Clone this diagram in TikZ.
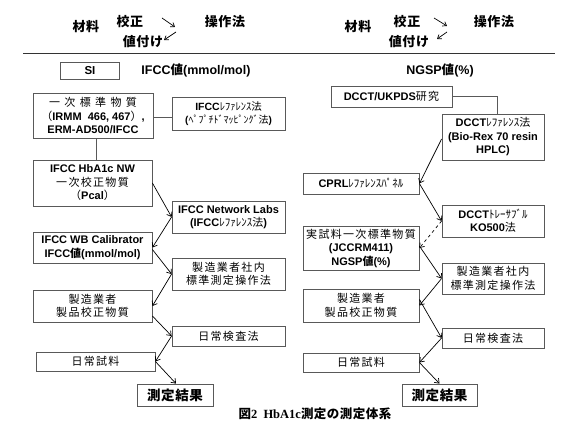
\documentclass[tikz,border=0pt]{standalone}
\usepackage{fontspec}
\setmainfont{Liberation Sans}
\newfontfamily\jpfont[LetterSpace=12]{Noto Sans CJK JP}
\newfontfamily\jpwide[LetterSpace=40]{Noto Sans CJK JP}
\newfontfamily\jphead[LetterSpace=4]{Noto Sans CJK JP}
\newfontfamily\jpkana{Noto Sans CJK JP}
\newfontfamily\capserif{Liberation Serif}
\newcommand\JR[1]{{\jpfont\mdseries #1}}
\newcommand\JW[1]{{\jpwide\mdseries #1}}
\newcommand\JK[1]{{\jpkana\mdseries #1}}
\newcommand\JB[1]{{\jphead\bfseries #1}}
\usetikzlibrary{arrows.meta}
\definecolor{boxgray}{HTML}{595959}
\begin{document}
\begin{tikzpicture}[x=1pt,y=-1pt,
  bx/.style={draw=boxgray, line width=0.8pt, inner sep=0pt, align=center,
    font=\bfseries\fontsize{11}{13.5}\selectfont},
  arr/.style={-{Straight Barb[length=4pt,width=6pt]}, line width=0.7pt},
  harr/.style={-{Straight Barb[length=3.5pt,width=5pt]}, line width=0.7pt},
  ln/.style={draw=boxgray, line width=0.8pt},
  htxt/.style={inner sep=0pt, font=\bfseries\fontsize{13}{15}\selectfont},
  res/.style={bx, font=\bfseries\fontsize{13.5}{15}\selectfont}]
\useasboundingbox (0,0) rectangle (580,435);

% ---------- header ----------
\node[htxt] (lmat) at (86,27) {\JB{材料}};
\node[htxt] (lcal) at (130,22) {\JB{校正}};
\node[htxt] (lop)  at (225,22) {\JB{操作法}};
\node[htxt] (lval) at (143,42) {\JB{値付け}};
\coordinate (la1) at (162,18); \coordinate (la2) at (175,27);
\coordinate (lb1) at (176,32); \coordinate (lb2) at (164,40);
\draw[harr] (la1) -- (la2);
\draw[harr] (lb1) -- (lb2);

\node[htxt] (rmat) at (358,27) {\JB{材料}};
\node[htxt] (rcal) at (407,22) {\JB{校正}};
\node[htxt] (rop)  at (494,22) {\JB{操作法}};
\node[htxt] (rval) at (409,42) {\JB{値付け}};
\coordinate (ra1) at (434,18); \coordinate (ra2) at (447,26);
\coordinate (rb1) at (447,32); \coordinate (rb2) at (437,39);
\draw[harr] (ra1) -- (ra2);
\draw[harr] (rb1) -- (rb2);

\coordinate (hl1) at (23,53); \coordinate (hl2) at (555,53);
\draw[line width=0.9pt, draw=black!80] (hl1) -- (hl2);

% ---------- unit row ----------
\node[bx, minimum width=59pt, minimum height=17pt, font=\bfseries\fontsize{11.5}{13}\selectfont] (SI) at (90,71) {SI};
\node[htxt, font=\bfseries\fontsize{12.5}{14}\selectfont] (ifccu) at (196,70) {IFCC\JB{値}(mmol/mol)};
\node[htxt, font=\bfseries\fontsize{12.5}{14}\selectfont] (ngspu) at (440,70) {NGSP\JB{値}(\%)};

% ---------- left column ----------
\node[bx, minimum width=120pt, minimum height=45pt] (L1) at (93,115.5)
  {\JW{一次標準物質}\\\JR{（}IRMM\ \ 466, 467\JR{）},\\ERM-AD500/IFCC};
\node[bx, minimum width=113pt, minimum height=33pt, font=\bfseries\fontsize{10.5}{13}\selectfont] (LR1) at (228.5,113.5)
  {IFCC\JK{ﾚﾌｧﾚﾝｽ法}\\{\fontsize{10}{12}\selectfont(\JK{ﾍﾟﾌﾟﾁﾄﾞﾏｯﾋﾟﾝｸﾞ法})}};
\node[bx, minimum width=119pt, minimum height=46pt] (L2) at (92.5,183)
  {IFCC HbA1c NW\\\JR{一次校正物質}\\\JR{（}Pcal\JR{）}};
\node[bx, minimum width=113pt, minimum height=32pt] (LR2) at (228.5,217)
  {IFCC Network Labs\\(IFCC\JK{ﾚﾌｧﾚﾝｽ法})};
\node[bx, minimum width=119pt, minimum height=31pt] (L3) at (92.5,247.5)
  {IFCC WB Calibrator\\IFCC\JB{値}(mmol/mol)};
\node[bx, minimum width=113pt, minimum height=32pt] (LR3) at (228.5,274)
  {\JR{製造業者社内}\\\JR{標準測定操作法}};
\node[bx, minimum width=119pt, minimum height=32pt] (L4) at (92.5,306)
  {\JR{製造業者}\\\JR{製品校正物質}};
\node[bx, minimum width=113pt, minimum height=20pt] (LR4) at (228.5,336)
  {\JR{日常検査法}};
\node[bx, minimum width=119pt, minimum height=19pt] (L5) at (95.5,361.5)
  {\JR{日常試料}};
\node[res, minimum width=76pt, minimum height=22pt] (L6) at (175,395)
  {\JB{測定結果}};

\draw[ln] ([yshift=-1.5pt]L1.east) -- ([yshift=-1.5pt]L1.east -| LR1.west);
\draw[ln] ([xshift=3pt]L1.south) -- ([xshift=3pt]L1.south |- L2.north);
\draw[arr] (L2.east) -- (LR2.west);
\draw[arr] (LR2.west) -- (L3.east);
\draw[arr] ([yshift=-2pt]L3.east) -- (LR3.west);
\draw[arr] (LR3.west) -- (L4.east);
\draw[arr] ([yshift=-10pt]L4.east) -- (LR4.west);
\draw[arr] (LR4.west) -- (L5.east);
\draw[arr] (L5.east) -- ([xshift=1pt]L6.north);

% ---------- right column ----------
\node[bx, minimum width=121pt, minimum height=21pt] (R0) at (391.5,96.5)
  {DCCT/UKPDS\JR{研究}};
\node[bx, minimum width=102pt, minimum height=46pt] (R1) at (493,137)
  {DCCT\JK{ﾚﾌｧﾚﾝｽ法}\\(Bio-Rex 70 resin\\HPLC)};
\node[bx, minimum width=116pt, minimum height=21pt] (R2) at (361,183.5)
  {CPRL\JK{ﾚﾌｧﾚﾝｽﾊﾟﾈﾙ}};
\node[bx, minimum width=102pt, minimum height=32pt] (R3) at (493,221)
  {DCCT\JK{ﾄﾚｰｻﾌﾞﾙ}\\KO500\JR{法}};
\node[bx, minimum width=116pt, minimum height=44pt] (R4) at (361,248)
  {\JR{実試料一次標準物質}\\(JCCRM411)\\NGSP\JB{値}(\%)};
\node[bx, minimum width=102pt, minimum height=31pt] (R5) at (493,278.5)
  {\JR{製造業者社内}\\\JR{標準測定操作法}};
\node[bx, minimum width=116pt, minimum height=33pt] (R6) at (361,305.5)
  {\JR{製造業者}\\\JR{製品校正物質}};
\node[bx, minimum width=102pt, minimum height=20pt] (R7) at (493,338)
  {\JR{日常検査法}};
\node[bx, minimum width=116pt, minimum height=19pt] (R8) at (361,362.5)
  {\JR{日常試料}};
\node[res, minimum width=75pt, minimum height=22pt] (R9) at (439.5,395)
  {\JB{測定結果}};

\draw[ln] (R0.east) -| ([xshift=4pt]R1.north);
\draw[arr] ([yshift=-2pt]R1.west) -- (R2.east);
\draw[arr] (R2.east) -- (R3.west);
\draw[arr, dashed] (R3.west) -- (R4.east);
\draw[arr] ([yshift=2pt]R4.east) -- (R5.west);
\draw[arr] (R5.west) -- (R6.east);
\draw[arr] ([yshift=6pt]R6.east) -- (R7.west);
\draw[arr] (R7.west) -- (R8.east);
\draw[arr] (R8.east) -- (R9.north);

% ---------- caption ----------
\node[inner sep=0pt, font=\capserif\bfseries\fontsize{12.5}{14}\selectfont] (cap) at (315,414)
  {\JB{図}2\ \ HbA1c\JB{測定の測定体系}};
\end{tikzpicture}
\end{document}
